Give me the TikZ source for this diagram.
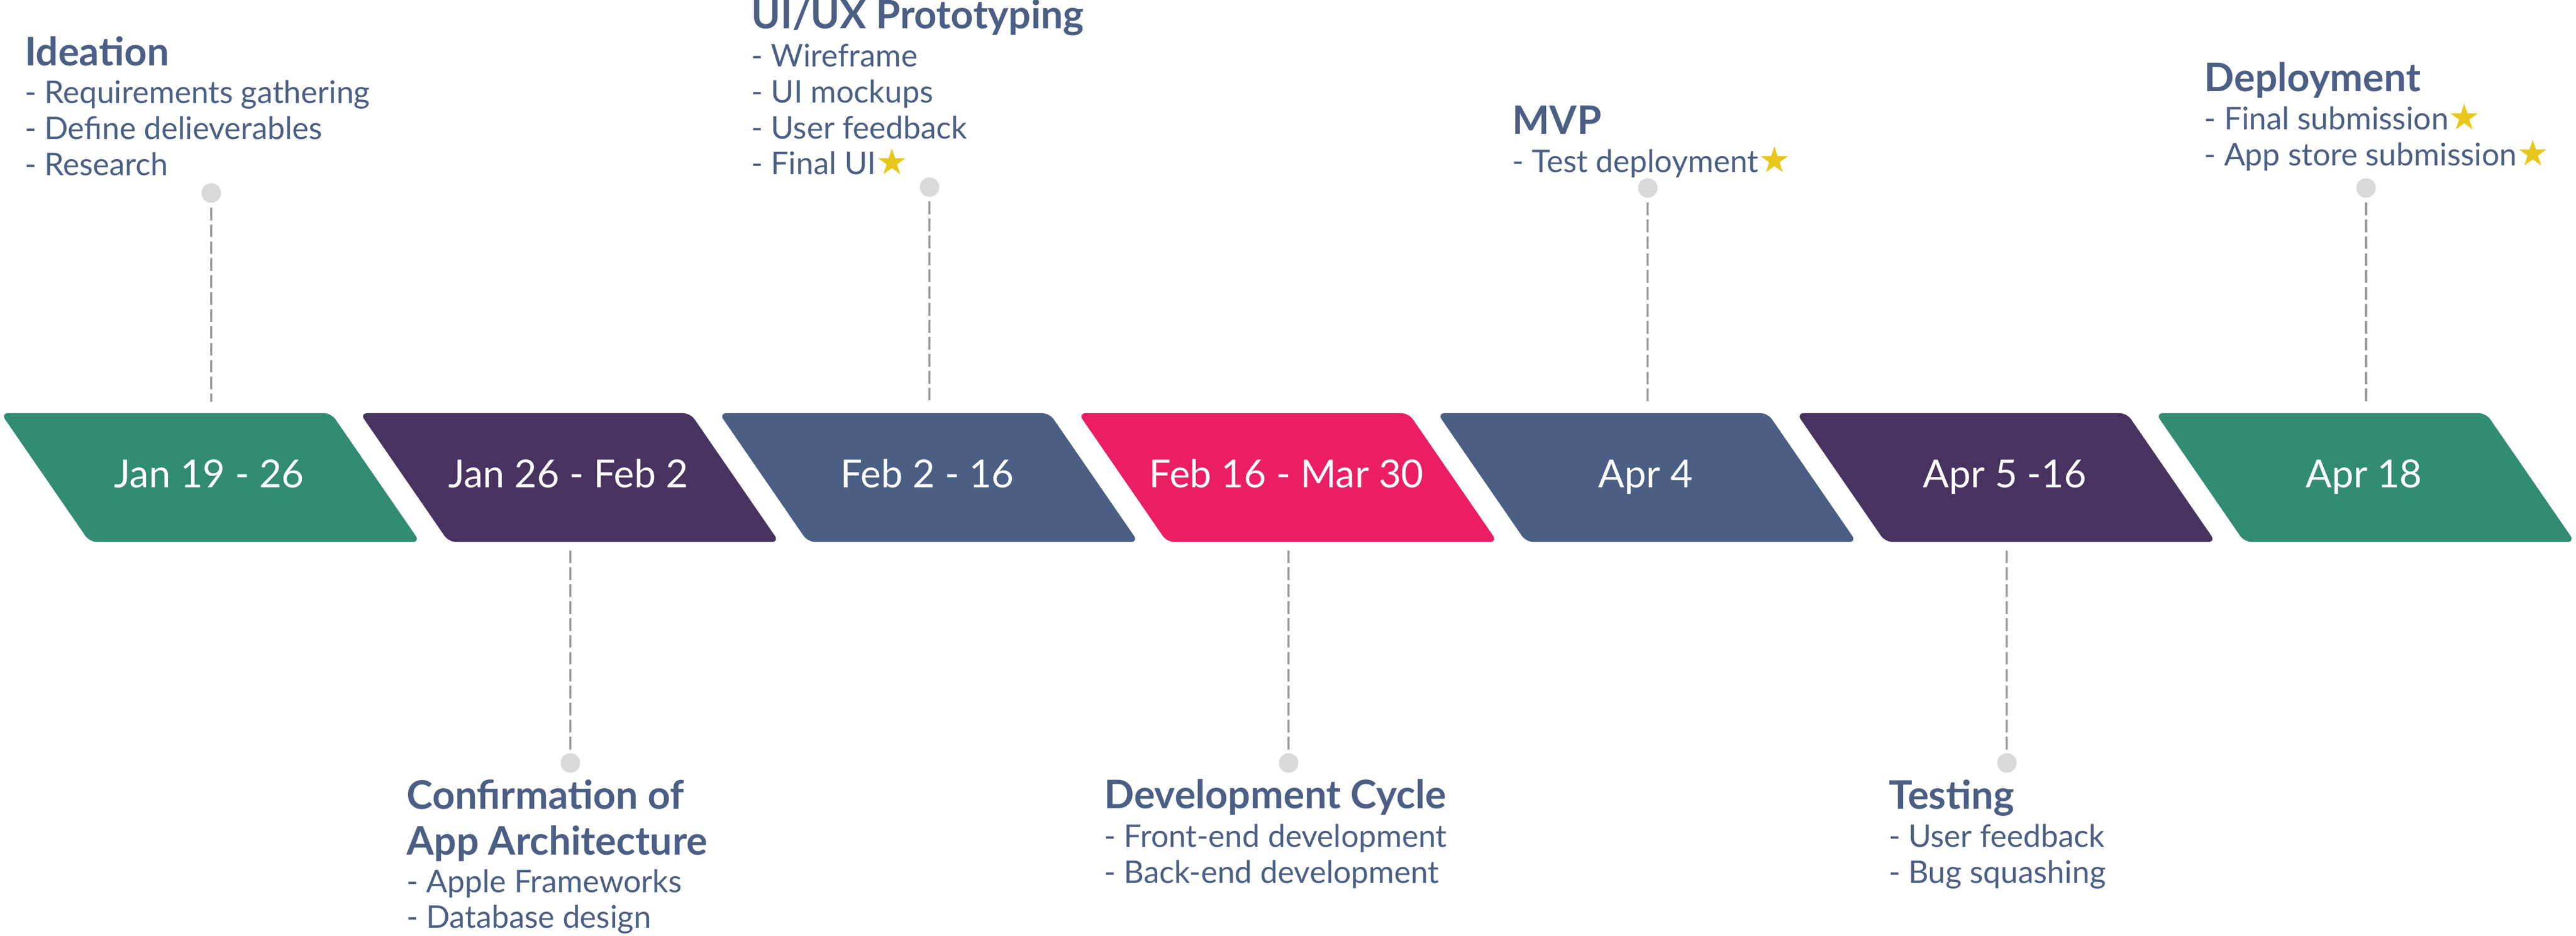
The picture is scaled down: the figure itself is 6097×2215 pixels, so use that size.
\documentclass[tikz,border=0pt]{standalone}
\usepackage{fontspec}
\setmainfont{Lato}
\newfontfamily\symbolfont{DejaVu Sans}
\usetikzlibrary{positioning}

\definecolor{tealgreen}{HTML}{328B73}
\definecolor{plum}{HTML}{483360}
\definecolor{slate}{HTML}{4B5F85}
\definecolor{rose}{HTML}{EC1E63}
\definecolor{leadgray}{HTML}{9B9B9B}
\definecolor{dotgray}{HTML}{D9D9D9}
\definecolor{stargold}{HTML}{E8C71C}
\newcommand{\goldstar}{{\symbolfont\fontsize{24}{24}\selectfont\textcolor{stargold}{★}}}

\begin{document}
\begin{tikzpicture}[x=0.01cm,y=-0.01cm]
	\tikzset{
		my phase/.style={rounded corners=5pt},
		my date/.style={text=white, font=\fontsize{26}{30}\selectfont, inner sep=0pt, anchor=base},
		my title/.style={text=slate, font=\fontsize{26.5}{30.7}\selectfont\bfseries, inner sep=0pt, anchor=base west, align=left},
		my items/.style={text=slate, font=\fontsize{21}{24.2}\selectfont, inner sep=0pt, anchor=base west, align=left},
		my dot/.style={circle, fill=dotgray, minimum size=0.46cm, inner sep=0pt},
		my leader/.style={draw=leadgray, line width=1.42pt, dash pattern=on 8.54pt off 2.85pt},
	}
	\useasboundingbox (0,0) rectangle (6097,2215);
	%
	\foreach \col/\when [count=\i] in {tealgreen/Jan 19 - 26, plum/Jan 26 - Feb 2, slate/Feb 2 - 16, rose/Feb 16 - Mar 30, slate/Apr 4, plum/Apr 5 -16, tealgreen/Apr 18}{
		\fill[\col, my phase] (850*\i-848,978) -- ++(782,0) -- ++(210,305) -- ++(-782,0) -- cycle;
		\node[my date] (d\i) at (850*\i-355,1154) {\when};
		\coordinate (t\i) at (850*\i-350,951);
		\coordinate (u\i) at (850*\i-350,1303);
	}
	%
	\node[my dot] (p1) at (500,457) {};
	\node[my dot] (p2) at (1350,1806) {};
	\node[my dot] (p3) at (2200,443) {};
	\node[my dot] (p4) at (3050,1806) {};
	\node[my dot] (p5) at (3900,445) {};
	\node[my dot] (p6) at (4750,1806) {};
	\node[my dot] (p7) at (5600,445) {};
	\foreach \k in {1,3,5,7}
		\draw[my leader, shorten <=3pt] (p\k) -- (t\k);
	\foreach \k in {2,4,6}
		\draw[my leader] (u\k) -- (p\k);
	%
	% (base of a multi-line node = its last line)
	\node[my title] (h1) at (58,155) {Ideation};
	\node[my items] (b1) at ([yshift=-2.6cm]h1.base west) {- Requirements gathering\\- Define delieverables\\- Research};
	\node[my title] (h2) at (962,2023) {Confirmation of\\App Architecture};
	\node[my items] (b2) at ([yshift=-1.74cm]h2.base west) {- Apple Frameworks\\- Database design};
	\node[my title] (h3) at (1778,68) {UI/UX Prototyping};
	\node[my items] (b3) at ([yshift=-3.45cm]h3.base west) {- Wireframe\\- UI mockups\\- User feedback\\- Final UI\goldstar};
	\node[my title] (h4) at (2613,1914) {Development Cycle};
	\node[my items] (b4) at ([yshift=-1.76cm]h4.base west) {- Front-end development\\- Back-end development};
	\node[my title] (h5) at (3579,318) {MVP};
	\node[my items] (b5) at ([yshift=-0.9cm]h5.base west) {- Test deployment\goldstar};
	\node[my title] (h6) at (4470,1915) {Testing};
	\node[my items] (b6) at ([yshift=-1.75cm]h6.base west) {- User feedback\\- Bug squashing};
	\node[my title] (h7) at (5217,217) {Deployment};
	\node[my items] (b7) at ([yshift=-1.75cm]h7.base west) {- Final submission\goldstar\\- App store submission\goldstar};
\end{tikzpicture}
\end{document}
